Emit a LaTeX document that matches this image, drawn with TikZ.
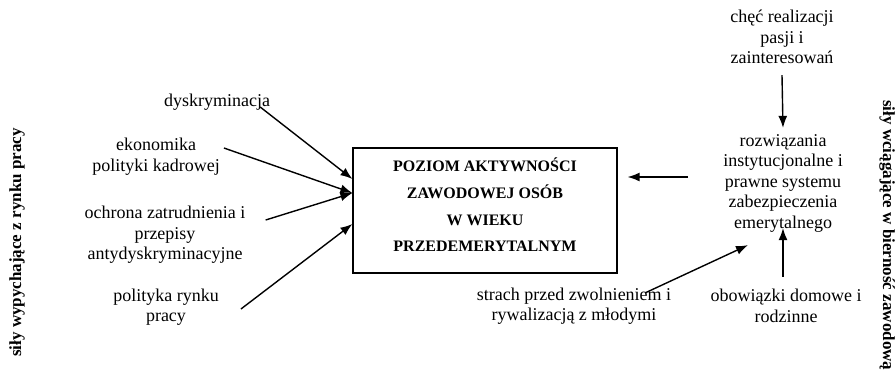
\documentclass[tikz,border=0pt]{standalone}
\usepackage{fontspec}
\setmainfont{Liberation Serif}
\usetikzlibrary{arrows.meta}

\begin{document}
\begin{tikzpicture}[
  x=1pt, y=-1pt,
  lbl/.style={align=center, inner sep=0pt, font=\fontsize{18}{20.5}\selectfont},
  mainbox/.style={draw, line width=1.2pt, minimum width=264pt, minimum height=125pt, inner sep=0pt},
  titletext/.style={align=center, inner sep=0pt, font=\fontsize{16}{26.7}\selectfont\bfseries},
  sidetext/.style={inner sep=0pt, font=\fontsize{17}{20}\selectfont\bfseries},
  arr/.style={-{Latex[length=12pt, width=9pt]}, line width=1.4pt}
]
\useasboundingbox (0,0) rectangle (895,376);

% centre
\node[mainbox] (box) at (485,210.5) {};
\node[titletext] (title) at ([yshift=5.5pt]box.center) {POZIOM AKTYWNOŚCI\\ZAWODOWEJ OSÓB\\W WIEKU\\PRZEDEMERYTALNYM};

% side headings
\node[sidetext, rotate=90, anchor=base west] (push) at (21,357) {siły wypychające z rynku pracy};
\node[sidetext, rotate=-90, anchor=base west] (pull) at (883,100) {siły wciągające w bierność zawodową};

% left factors
\node[lbl] (dys) at (217,102) {dyskryminacja};
\node[lbl] (eko) at (156,156.5) {ekonomika\\polityki kadrowej};
\node[lbl] (ochr) at (165,235) {ochrona zatrudnienia i\\przepisy\\antydyskryminacyjne};
\node[lbl] (pol) at (166,307) {polityka rynku\\pracy};

% right factors
\node[lbl] (chec) at (782,37) {chęć realizacji\\pasji i\\zainteresowań};
\node[lbl] (rozw) at (783,183) {rozwiązania\\instytucjonalne i\\prawne systemu\\zabezpieczenia\\emerytalnego};
\node[lbl] (strach) at (574,306) {strach przed zwolnieniem i\\rywalizacją z młodymi};
\node[lbl] (obow) at (786,306) {obowiązki domowe i\\rodzinne};

\draw[arr] ([xshift=-10pt,yshift=-5pt]dys.east) -- ([yshift=31.5pt]box.west);
\draw[arr] ([xshift=4pt,yshift=8.5pt]eko.east) -- ([yshift=17.5pt]box.west);
\draw[arr] ([xshift=20pt,yshift=15pt]ochr.east) -- ([yshift=17.5pt]box.west);
\draw[arr] ([xshift=22pt,yshift=-2pt]pol.east) -- ([yshift=-13.5pt]box.west);

\draw[arr] ([yshift=-11pt]chec.south) -- ([yshift=6pt]rozw.north);
\draw[arr] ([xshift=-35pt,yshift=6pt]rozw.west) -- ([xshift=10pt,yshift=33.5pt]box.east);
\draw[arr] ([xshift=-3pt,yshift=12.6pt]obow.north) -- ([yshift=4pt]rozw.south);
\draw[arr] ([xshift=-26pt,yshift=-5.4pt]strach.north east) -- ([xshift=-35pt,yshift=-13pt]rozw.south);
\end{tikzpicture}
\end{document}
